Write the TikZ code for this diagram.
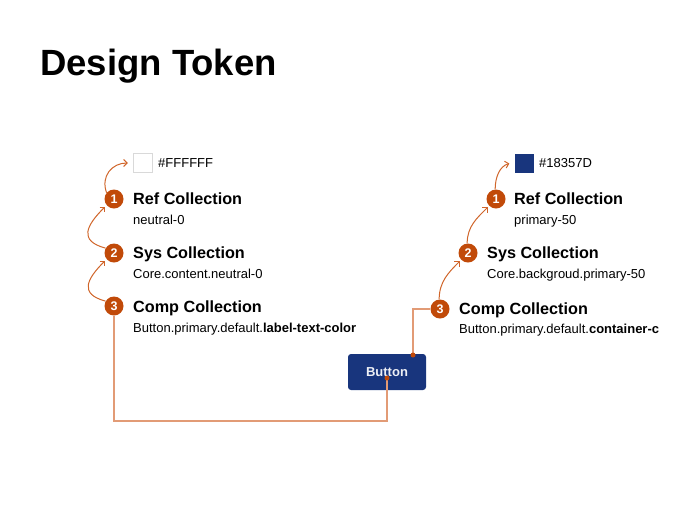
\documentclass[tikz,border=0pt]{standalone}
\usepackage{fontspec}
\setmainfont{Liberation Sans}
\usetikzlibrary{arrows.meta}
\definecolor{tokenorange}{HTML}{C14A09}
\definecolor{linkorange}{HTML}{E29B76}
\definecolor{hoporange}{HTML}{D0652A}
\definecolor{navy}{HTML}{18357D}
\begin{document}
\begin{tikzpicture}[x=1pt, y=-1pt,
  num/.style={circle, fill=tokenorange, text=white, inner sep=0pt, minimum size=19pt,
    font=\bfseries\fontsize{12.5}{12.5}\selectfont},
  head/.style={anchor=base west, inner sep=0pt, font=\bfseries\fontsize{16.2}{16.2}\selectfont},
  sub/.style={anchor=base west, inner sep=0pt, font=\fontsize{13}{13}\selectfont},
  swatch/.style={rectangle, inner sep=0pt, minimum size=19pt},
  hop/.style={hoporange, line width=1pt, -{Straight Barb[length=3.5pt, width=7pt]}, shorten >=2pt},
  link/.style={linkorange, line width=1.4pt},
  pin/.style={circle, fill=tokenorange, inner sep=0pt, minimum size=5pt}]
  \useasboundingbox (0, 0) rectangle (695, 504);

  \node[anchor=base west, inner sep=0pt, font=\bfseries\fontsize{36.5}{36.5}\selectfont] (title) at (40, 75) {Design Token};

  % Left column: label text colour
  \node[swatch, draw=black!15, fill=white] (lsw) at (142.5, 163) {};
  \node[sub] (lhex) at (158, 167) {\#FFFFFF};
  \node[num] (l1) at (114, 199) {1};
  \node[head] (lref) at (133, 204) {Ref Collection};
  \node[sub] (lrefv) at (133, 224) {neutral-0};
  \node[num] (l2) at (114, 253) {2};
  \node[head] (lsys) at (133, 258) {Sys Collection};
  \node[sub] (lsysv) at (133, 278) {Core.content.neutral-0};
  \node[num] (l3) at (114, 306) {3};
  \node[head] (lcomp) at (133, 312) {Comp Collection};
  \node[sub] (lcompv) at (133, 332) {Button.primary.default.\textbf{label-text-color}};

  % Right column: container colour
  \node[swatch, fill=navy] (rsw) at (524, 163) {};
  \node[sub] (rhex) at (539, 167) {\#18357D};
  \node[num] (r1) at (496, 199) {1};
  \node[head] (rref) at (514, 204) {Ref Collection};
  \node[sub] (rrefv) at (514, 224) {primary-50};
  \node[num] (r2) at (468, 253) {2};
  \node[head] (rsys) at (487, 258) {Sys Collection};
  \node[sub] (rsysv) at (487, 278) {Core.backgroud.primary-50};
  \node[num] (r3) at (440, 309) {3};
  \node[head] (rcomp) at (459, 314) {Comp Collection};
  \node[sub] (rcompv) at (459, 333) {Button.primary.default.\textbf{container-c}};

  % Button
  \node[rectangle, rounded corners=3pt, fill=navy, text=white!92!navy, minimum width=78pt, minimum height=36pt,
    font=\bfseries\fontsize{13}{13}\selectfont] (btn) at (387, 372) {Button};
  \coordinate (ltext) at (387, 378);
  \coordinate (lturn) at (114, 421);
  \coordinate (rfill) at (413, 355);

  % Links into the button
  \draw[link] (l3.south) -- (lturn) -| (ltext);
  \draw[link] (rfill) |- (r3);
  \node[pin] (ldot) at (ltext) {};
  \node[pin] (rdot) at (rfill) {};

  % Reference hops
  \draw[hop] (l1.140) to[out=110, in=180, looseness=1.2] ([xshift=-3pt]lsw.west);
  \draw[hop] (l2.150) to[out=165, in=225, looseness=1.7] (l1.220);
  \draw[hop] (l3.150) to[out=165, in=225, looseness=1.7] (l2.220);
  \draw[hop] (r1.95) to[out=90, in=195] ([xshift=-3pt]rsw.west);
  \draw[hop] (r2.95) to[out=90, in=225] (r1.225);
  \draw[hop] (r3.95) to[out=90, in=225] (r2.225);
\end{tikzpicture}
\end{document}
